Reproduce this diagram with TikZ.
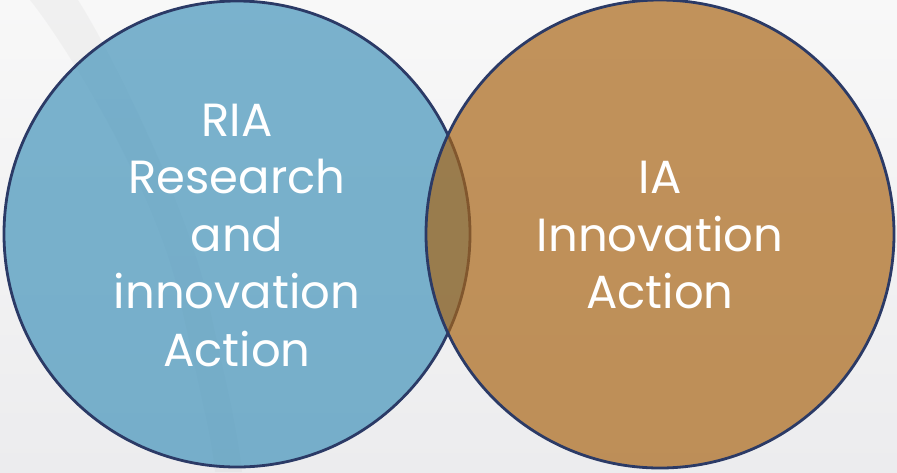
\documentclass[tikz,border=0pt]{standalone}
\usepackage{fontspec}
\setmainfont{Poppins}
\usetikzlibrary{shadings}
\definecolor{bgtop}{HTML}{F8F8F8}
\definecolor{bgbot}{HTML}{ECECEE}
\definecolor{bandc}{HTML}{9A9A9A}
\definecolor{riafill}{RGB}{66,147,186}
\definecolor{iafill}{RGB}{169,101,21}
\definecolor{rimc}{HTML}{2B3A66}
\tikzset{
  venn/.style={line width=2.8pt, draw=rimc},
  vtext/.style={text=white, align=center, font=\fontsize{46.5}{57.5}\selectfont, inner sep=0pt}
}
\begin{document}
\begin{tikzpicture}[x=1pt,y=-1pt]
\useasboundingbox (0,0) rectangle (897,472);
\shade[top color=bgtop, bottom color=bgbot] (0,0) rectangle (897,472);
% faint diagonal band
\fill[bandc, opacity=0.08] (30,0) .. controls (70,50) and (160,200) .. (180,300) .. controls (200,390) and (212,440) .. (215,472)
  -- (242,472) .. controls (238,430) and (225,380) .. (208,300) .. controls (185,200) and (110,50) .. (78,0) -- cycle;
% circles
\node[venn, circle, minimum size=466pt, inner sep=0pt, fill=riafill, fill opacity=0.69] (ria) at (237,234) {};
\node[venn, circle, minimum size=468pt, inner sep=0pt, fill=iafill, fill opacity=0.69] (ia) at (660,234) {};
\node[vtext] (riatext) at (237,235) {RIA\\Research\\and\\innovation\\Action};
\node[vtext] (iatext) at (660,235) {IA\\Innovation\\Action};
\end{tikzpicture}
\end{document}
